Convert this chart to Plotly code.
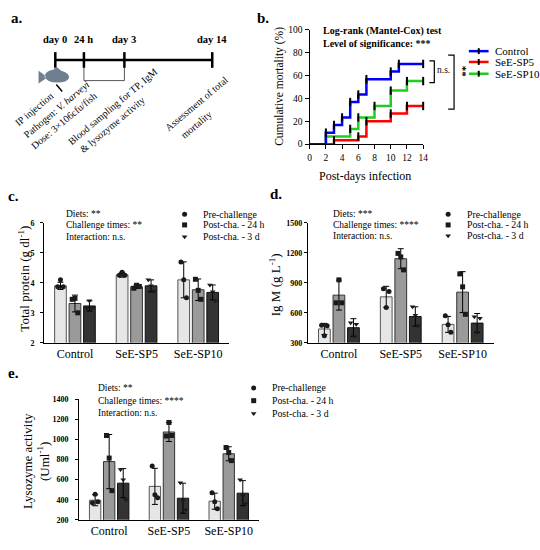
import numpy as np
import plotly.graph_objects as go

FONT = "Liberation Serif"

# ---- b. cumulative mortality (%)
days_ctrl = [0, 2, 3, 4, 5, 6, 7, 10, 11, 14]
mort_ctrl = [0, 10, 16.7, 23.3, 36.7, 43.3, 56.7, 63.3, 70, 70]
days_sp5 = [0, 3, 6, 7, 10, 12, 14]
mort_sp5 = [0, 3.3, 6.7, 20, 26.7, 33.3, 33.3]
days_sp10 = [0, 2, 5, 6, 8, 10, 12, 14]
mort_sp10 = [0, 6.7, 13.3, 23.3, 33.3, 46.7, 55, 55]

diets = ["Control", "SeE-SP5", "SeE-SP10"]
times = ["Pre-challenge", "Post-cha. - 24 h", "Post-cha. - 3 d"]

# rows = sampling time, cols = diet
# ---- c. total protein (g/dl)
tp_mean = [[3.9, 4.27, 4.1], [3.31, 3.87, 3.77], [3.23, 3.9, 3.68]]
tp_sd = [[0.12, 0.08, 0.6], [0.28, 0.06, 0.36], [0.17, 0.2, 0.25]]
tp_pts = [[[4.1, 3.87, 3.87], [4.35, 4.25, 4.25], [4.1, 4.7, 3.5]],
          [[3.48, 3.45, 3.0], [3.92, 3.82, 3.88], [3.75, 4.12, 3.45]],
          [[3.4, 3.17, 3.17], [3.9, 4.1, 3.72], [3.7, 3.93, 3.4]]]

# ---- d. IgM (g/L)
igm_mean = [[438, 760, 484], [777, 1142, 807], [451, 563, 497]]
igm_sd = [[56, 105, 80], [150, 100, 205], [90, 97, 96]]
igm_pts = [[[370, 475, 470], [652, 840, 813], [480, 570, 405]],
           [[930, 700, 700], [1160, 1195, 1030], [860, 990, 585]],
           [[370, 500, 485], [575, 660, 470], [405, 560, 545]]]

# ---- e. lysozyme activity (U/ml)
lys_mean = [[395, 533, 385], [780, 1075, 858], [565, 415, 465]]
lys_sd = [[55, 180, 80], [270, 95, 70], [145, 150, 125]]
lys_pts = [[[455, 370, 380], [450, 735, 420], [380, 470, 310]],
           [[815, 1040, 490], [1170, 1035, 1040], [870, 920, 790]],
           [[600, 700, 400], [390, 570, 300], [440, 600, 360]]]

OFFS = [-0.235, 0, 0.235]
JIT = [0, -0.045, 0.045]
BAR_W = 0.19
BAR_COLORS = ["#e6e6e6", "#9a9a9a", "#333333"]
BAR_LINES = ["#555555", "#333333", "#111111"]
SYMS = ["circle", "square", "triangle-down"]

fig = go.Figure()


def bar_panel(xa, ya, means, sds, pts):
    for k in range(3):
        xs = np.arange(3) + OFFS[k]
        fig.add_trace(go.Bar(x=xs, y=means[k], width=BAR_W, xaxis=xa, yaxis=ya,
                             marker=dict(color=BAR_COLORS[k], line=dict(color=BAR_LINES[k], width=1)),
                             error_y=dict(type="data", array=sds[k], color="black", thickness=1, width=3),
                             showlegend=False))
        px_, py_ = [], []
        for i in range(3):
            for j, v in enumerate(pts[k][i]):
                px_.append(i + OFFS[k] + JIT[j])
                py_.append(v)
        fig.add_trace(go.Scatter(x=px_, y=py_, mode="markers", xaxis=xa, yaxis=ya,
                                 marker=dict(symbol=SYMS[k], size=5, color="#1a1a1a"),
                                 showlegend=False, cliponaxis=False))


# survival curves
for d, m, c in [(days_sp10, mort_sp10, "#22cc22"), (days_sp5, mort_sp5, "#ff0000"),
                (days_ctrl, mort_ctrl, "#0000ff")]:
    fig.add_trace(go.Scatter(x=d, y=m, mode="lines", line=dict(color=c, width=2.5, shape="hv"),
                             showlegend=False, cliponaxis=False))
    fig.add_trace(go.Scatter(x=d[1:], y=m[1:], mode="markers", showlegend=False, cliponaxis=False,
                             marker=dict(symbol="line-ns", size=6, line=dict(color="black", width=2))))

bar_panel("x2", "y2", tp_mean, tp_sd, tp_pts)
bar_panel("x3", "y3", igm_mean, igm_sd, igm_pts)
bar_panel("x4", "y4", lys_mean, lys_sd, lys_pts)

# ---- overlay in pixel coordinates for decorations
ann = []
shapes = []


def txt(x, y, s, size=10, anchor="left", angle=0, bold=False):
    ann.append(dict(x=x, y=y, xref="x5", yref="y5", text=s, showarrow=False, xanchor=anchor,
                    yanchor="middle", textangle=angle,
                    font=dict(family=FONT, size=size, color="black", weight="bold" if bold else "normal")))


def line(x0, y0, x1, y1, color="black", width=1.5):
    shapes.append(dict(type="line", x0=x0, y0=y0, x1=x1, y1=y1, xref="x5", yref="y5",
                       line=dict(color=color, width=width)))


# panel labels
for lab, x, y in [("a.", 15, 13), ("b.", 264, 13), ("c.", 12, 195), ("d.", 278, 192), ("e.", 12, 375)]:
    txt(x, y, lab, size=15, anchor="center", bold=True)

# a. timeline
line(54, 56, 213, 56, width=2.5)
for x, lab in [(54, "day 0"), (83, "24 h"), (124, "day 3"), (213, "day 14")]:
    line(x, 48, x, 64, width=2.5)
    txt(x, 35, lab, size=10.5, anchor="center", bold=True)
shapes.append(dict(type="path", path="M 83,64 L 83,77 L 124,77 L 124,64", xref="x5", yref="y5",
                   line=dict(color="#555555", width=1)))
shapes.append(dict(type="path", xref="x5", yref="y5", fillcolor="#6e7f91", line=dict(width=0),
                   path="M 37,67 L 44,72 L 44,75 L 37,80 Z M 43,73 Q 44,67 52,66 L 55,63 L 60,67 "
                        "Q 68,69 68,74 Q 66,79 56,79 Q 46,79 43,73 Z"))
line(55, 81, 61, 88, width=1.5)
for x, y, s in [(32, 106, "IP injection"), (55, 106, "Pathogen: <i>V. harveyi</i>"),
                (63, 118, "Dose: 3×106cfu/fish"), (112, 103, "Blood sampling for TP, IgM"),
                (112, 122, "&amp; lysozyme activity"), (197, 100, "Assessment of total"),
                (197, 122, "mortality")]:
    txt(x, y, s, size=10, anchor="center", angle=-40)

# b. texts
txt(323, 26, "Log-rank (Mantel-Cox) test", size=10, bold=True)
txt(323, 39, "Level of significance: ***", size=10, bold=True)
txt(281, 83, "Cumulative mortality (%)", size=11.5, anchor="center", angle=-90)
txt(368, 174, "Post-days infection", size=12, anchor="center")
for y, c, name in [(47, "#0000ff", "Control"), (58, "#ff0000", "SeE-SP5"), (70, "#22cc22", "SeE-SP10")]:
    line(473, y, 493, y, color=c, width=2.5)
    line(483, y - 3, 483, y + 3, width=2)
    txt(497, y, name, size=11)
shapes.append(dict(type="path", path="M 433,57 L 438,57 L 438,79 L 433,79", xref="x5", yref="y5",
                   line=dict(color="black", width=1.2)))
txt(447, 66, "n.s.", size=9.5, anchor="center")
shapes.append(dict(type="path", path="M 452,51 L 458,51 L 458,106 L 452,106", xref="x5", yref="y5",
                   line=dict(color="black", width=1.2)))
txt(467, 68, "**", size=11, anchor="center", angle=90, bold=True)

# c/d/e stats text and legends
stats = {"c": ["Diets: **", "Challenge times: **", "Interaction: n.s."],
         "d": ["Diets: ***", "Challenge times: ****", "Interaction: n.s."],
         "e": ["Diets: **", "Challenge times: ****", "Interaction: n.s."]}
leg_x, leg_y = [], []
for key, sx, mx, ys in [("c", 63, 185, [213, 224, 236]), ("d", 333, 452, [213, 224, 235]),
                        ("e", 95, 255, [390, 403, 416])]:
    for s, y in zip(stats[key], ys):
        txt(sx, y, s, size=9.5)
    for t, y in zip(times, ys):
        txt(mx + 17, y, t, size=9.8)
    leg_x.append([mx] * 3)
    leg_y.append(ys)
for k in range(3):
    fig.add_trace(go.Scatter(x=[lx[k] for lx in leg_x], y=[ly[k] for ly in leg_y], mode="markers",
                             xaxis="x5", yaxis="y5", showlegend=False,
                             marker=dict(symbol=SYMS[k], size=5, color="#1a1a1a")))

txt(22, 279, "Total protein (g dl<sup>-1</sup>)", size=13, anchor="center", angle=-90)
txt(276, 285, "Ig M (g L<sup>-1</sup>)", size=13, anchor="center", angle=-90)
txt(34, 465, "Lysozyme activity<br>(Uml<sup>-1</sup>)", size=13, anchor="center", angle=-90)


def pxd(a, b):
    return [a / 540, b / 540]


def pyd(top, bottom):
    return [1 - bottom / 550, 1 - top / 550]


tick_font = dict(family=FONT, size=8, color="black", weight="bold")
yax = dict(showline=True, linecolor="black", linewidth=1.3, ticks="outside", ticklen=3,
           tickwidth=1.2, tickcolor="black", showgrid=False, zeroline=False, tickfont=tick_font)
bax = dict(yax, ticklen=4, tickfont=dict(family=FONT, size=9.5, color="black"))
xcat = dict(showline=True, linecolor="black", linewidth=1.3, ticks="", showgrid=False, zeroline=False,
            range=[-0.5, 2.5], tickvals=[0, 1, 2], ticktext=diets,
            tickfont=dict(family=FONT, size=12, color="black"))

fig.update_layout(
    width=540, height=550, margin=dict(l=0, r=0, t=0, b=0),
    paper_bgcolor="white", plot_bgcolor="rgba(0,0,0,0)", barmode="overlay", showlegend=False,
    xaxis=dict(domain=pxd(311.7, 426.7), range=[0, 14], dtick=2, anchor="y", **bax),
    yaxis=dict(domain=pyd(25, 141.7), range=[0, 100], dtick=20, anchor="x", **bax),
    xaxis2=dict(domain=pxd(42.7, 230), anchor="y2", **xcat),
    yaxis2=dict(domain=pyd(222, 344), range=[2, 6], dtick=1, anchor="x2", ticklabelstandoff=4, **yax),
    xaxis3=dict(domain=pxd(310, 498), anchor="y3", **xcat),
    yaxis3=dict(domain=pyd(222, 344), range=[300, 1500], dtick=300, anchor="x3", **yax),
    xaxis4=dict(domain=pxd(78.3, 260), anchor="y4", **xcat),
    yaxis4=dict(domain=pyd(401.7, 524.3), range=[200, 1400], dtick=200, anchor="x4",
                ticklabelstandoff=5, **yax),
    xaxis5=dict(domain=[0, 1], range=[0, 540], visible=False, anchor="y5", fixedrange=True),
    yaxis5=dict(domain=[0, 1], range=[550, 0], visible=False, anchor="x5", fixedrange=True),
    annotations=ann, shapes=shapes,
    font=dict(family=FONT, color="black"),
)

fig.write_html("out.html", config={"displayModeBar": False},
               post_script="document.body.style.margin='0';document.body.style.overflow='hidden';")
